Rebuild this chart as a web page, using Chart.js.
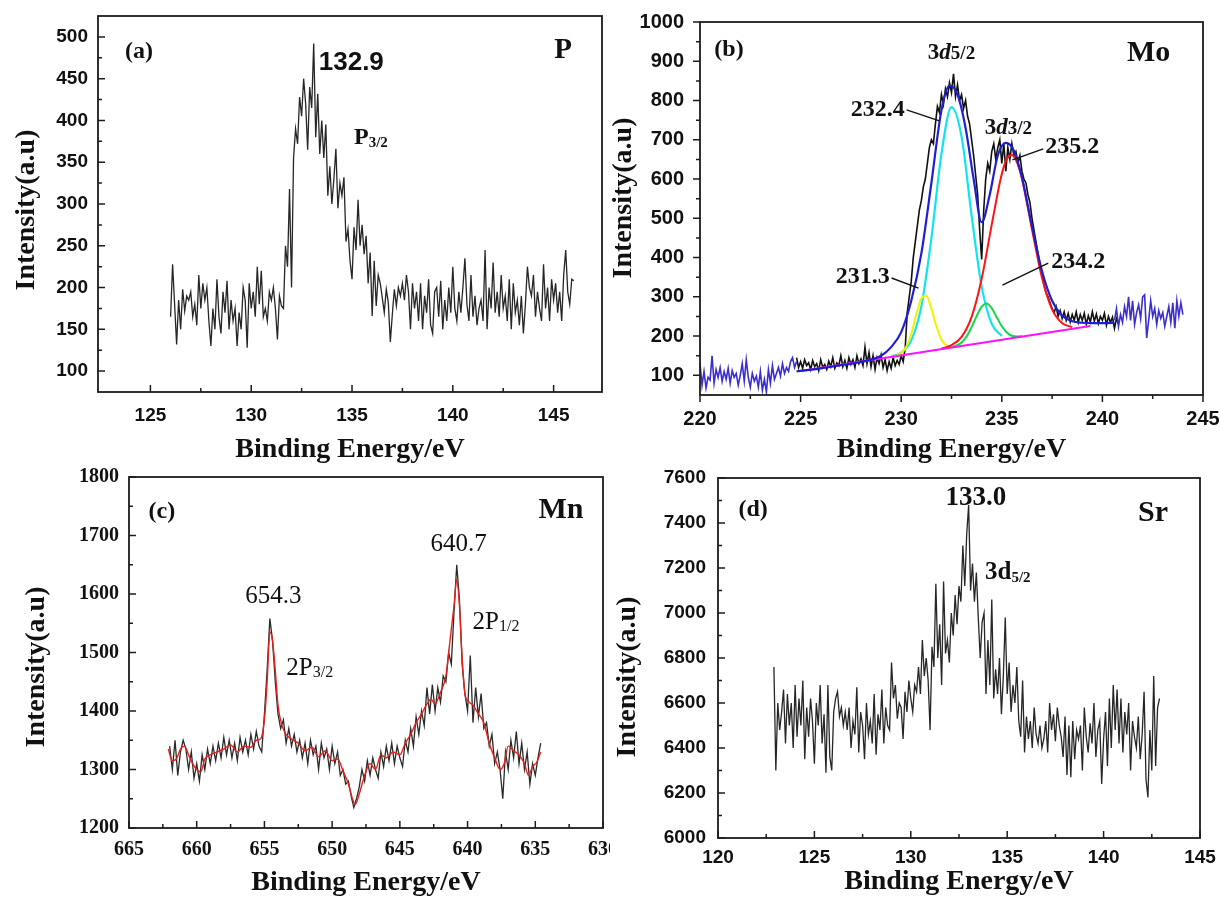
<!DOCTYPE html>
<html>
<head>
<meta charset="utf-8">
<script src="https://cdn.jsdelivr.net/npm/chart.js@4.4.0/dist/chart.umd.min.js"></script>
<style>
  html, body { margin: 0; padding: 0; background: #fff; }
  #page { position: relative; width: 1220px; height: 903px; overflow: hidden; background: #fff; }
  #page canvas { position: absolute; }
</style>
</head>
<body>
<div id="page">
  <canvas id="chartP" width="610" height="480" style="left:0;top:0"></canvas>
  <canvas id="chartMo" width="620" height="480" style="left:600px;top:0"></canvas>
  <canvas id="chartMn" width="610" height="453" style="left:0;top:450px"></canvas>
  <canvas id="chartSr" width="620" height="453" style="left:600px;top:450px"></canvas>
</div>
<script>
const SERIF = "'Liberation Serif', 'Times New Roman', serif";
const SANS = "'Liberation Sans', Arial, sans-serif";

// energy grids: spectra are sampled at a fixed step
const grid = (start, step, n) => Array.from({ length: n }, (_, i) => +(start + i * step).toFixed(3));
const pts = (xs, ys) => ys.slice(0, xs.length).map((y, i) => ({ x: xs[i], y }));

// ---- (a) P ----
const pY = [
  165, 228, 180, 132, 185, 150, 198, 172, 190, 185,
  195, 165, 180, 155, 215, 175, 205, 185, 200, 160,
  130, 175, 150, 210, 165, 145, 195, 170, 208, 150,
  185, 160, 175, 130, 170, 150, 200, 185, 128, 205,
  175, 195, 165, 225, 180, 220, 165, 175, 160, 195,
  185, 200, 175, 138, 190, 178, 175, 250, 225, 318,
  200, 355, 390, 372, 428, 405, 450, 420, 365, 440,
  415, 492, 380, 432, 360, 400, 355, 395, 310, 345,
  300, 330, 366, 295, 325, 310, 332, 255, 270, 232,
  210, 272, 245, 305, 250, 275, 240, 262, 205, 242,
  166, 232, 178, 215, 205, 188, 170, 198, 182, 135,
  168, 198, 178, 200, 190, 205, 185, 215, 195, 150,
  205, 175, 195, 160, 205, 150, 190, 170, 210, 155,
  145, 195, 200, 165, 208, 150, 185, 160, 200, 170,
  225, 175, 160, 195, 170, 200, 235, 180, 160, 215,
  165, 190, 155, 175, 185, 160, 245, 150, 200, 175,
  230, 170, 195, 165, 215, 175, 190, 160, 210, 150,
  205, 170, 185, 155, 190, 145, 180, 225, 200, 190,
  215, 165, 195, 175, 160, 228, 175, 200, 160, 210,
  185, 205, 170, 195, 160, 215, 245, 195, 180, 210,
  208
];
const pX = grid(126.0, 0.1, pY.length);
const pXTicks = [125, 130, 135, 140, 145];
const pYTicks = [100, 150, 200, 250, 300, 350, 400, 450, 500];

// ---- (b) Mo ----
const moRaw = [
  145, 120,
  135, 118, 140, 125, 132, 115, 138, 122, 130, 112,
  140, 120, 128, 115, 136, 122, 145, 118, 132, 125,
  150, 122, 138, 118, 145, 128, 140, 120, 150, 130,
  142, 125, 172, 130, 158, 122, 150, 115, 145, 130,
  152, 120, 140, 112, 135, 118, 145, 125, 138, 128,
  150, 135, 170, 260, 300, 340, 400, 440, 480, 520,
  545, 580, 600, 640, 680, 700, 690, 740, 785, 770,
  815, 790, 830, 810, 845, 820, 868, 810, 840, 800,
  815, 780, 800, 760, 740, 700, 660, 610, 560, 470,
  395, 520, 600, 640, 620, 670, 690, 650, 680, 700,
  640, 690, 620, 680, 650, 690, 660, 670, 640, 660,
  620, 600, 590, 560, 540, 500, 470, 440, 410, 380,
  360, 330, 310, 300, 285, 270, 260, 275, 250, 265,
  245, 262, 240, 258, 236, 255, 240, 262, 235, 255,
  240, 258, 230, 252, 236, 262, 238, 256, 232, 250,
  240, 258, 228, 250, 235, 248, 220, 245, 230
];
const moRawX = grid(224.8, 0.1, moRaw.length);
const moLowTail = [
  130, 75, 110, 68, 95, 88, 150, 80, 115, 95,
  120, 85, 110, 90, 118, 80, 112, 95, 105, 75,
  100, 130, 85, 140, 95, 70, 105, 85, 98, 70,
  110, 62, 90, 58, 115, 80, 125, 90, 105, 120,
  98, 130, 105, 120, 110, 135, 145, 120, 135
];
const moLowX = grid(220.0, 0.1, moLowTail.length);
const moHighTail = [
  240, 270, 225, 255, 235, 275, 250, 300, 240, 290,
  230, 260, 280, 245, 300, 305, 195, 240, 290, 250,
  270, 230, 265, 245, 260, 225, 250, 275, 235, 285,
  220, 290, 250, 285, 255
];
const moHighX = grid(240.6, 0.1, moHighTail.length);
const moEnvX = [224.8, 226, 227, 228, 229, 229.5, 230, 230.5, 231, 231.5, 232, 232.4, 232.8, 233.2, 233.6,
  234, 234.4, 234.8, 235.2, 235.6, 236, 236.5, 237, 237.5, 238, 238.5, 239, 239.5, 240, 240.6];
const moEnvY = [110, 118, 126, 134, 150, 172, 210, 290, 410, 590, 775, 838, 815, 730, 600,
  490, 560, 660, 692, 672, 605, 480, 365, 290, 252, 238, 234, 233, 233, 234];
const moCyanX = [229.5, 230, 230.5, 231, 231.5, 232, 232.5, 233, 233.5, 234, 234.5, 235];
const moCyanY = [148, 158, 189, 275, 449, 664, 783, 708, 507, 326, 231, 200];
const moYellowX = [229.5, 229.75, 230, 230.25, 230.5, 230.75, 231, 231.25, 231.5, 231.75, 232, 232.25, 232.5];
const moYellowY = [147, 150, 157, 173, 206, 255, 296, 303, 270, 225, 191, 176, 173];
const moGreenX = [232.5, 232.75, 233, 233.25, 233.5, 233.75, 234, 234.25, 234.5, 234.75, 235, 235.25, 235.5, 235.75, 236];
const moGreenY = [172, 176, 184, 199, 223, 251, 275, 283, 271, 248, 225, 209, 201, 199, 200];
const moRedX = [232, 232.5, 233, 233.5, 234, 234.5, 235, 235.25, 235.5, 235.75, 236, 236.5, 237, 237.5, 238, 238.5];
const moRedY = [168, 177, 198, 249, 346, 484, 613, 651, 661, 643, 601, 472, 348, 268, 233, 223];
const moBaseX = [225, 239.4];
const moBaseY = [111, 226];
const moXTicks = [220, 225, 230, 235, 240, 245];
const moYTicks = [100, 200, 300, 400, 500, 600, 700, 800, 900, 1000];

// ---- (c) Mn ----
const mnRaw = [
  1340, 1300, 1350, 1290, 1330,
  1350, 1335, 1300, 1330, 1285,
  1310, 1280, 1325, 1300, 1335,
  1310, 1340, 1315, 1345, 1320,
  1355, 1325, 1350, 1320, 1345,
  1315, 1355, 1330, 1350, 1325,
  1360, 1335, 1365, 1340, 1330,
  1395, 1470, 1558, 1520, 1450,
  1395, 1370, 1385, 1345, 1370,
  1340, 1360, 1330, 1350, 1320,
  1345, 1310, 1350, 1325, 1340,
  1300, 1345, 1320, 1335, 1300,
  1340, 1310, 1330, 1290, 1300,
  1275, 1280, 1255, 1235, 1250,
  1270, 1300, 1280, 1315, 1290,
  1320, 1300, 1285, 1330, 1305,
  1340, 1315, 1345, 1310, 1340,
  1320, 1305, 1350, 1330, 1370,
  1340, 1390, 1360, 1400, 1375,
  1440, 1395, 1445, 1400, 1440,
  1415, 1460, 1450, 1500, 1480,
  1570, 1650, 1590, 1480, 1430,
  1400, 1495, 1380, 1440, 1390,
  1430, 1370, 1380, 1340, 1360,
  1310, 1330, 1300, 1250, 1330,
  1300, 1350, 1320, 1365, 1310,
  1345, 1300, 1330, 1275, 1310,
  1290, 1320, 1345
];
const mnRawX = grid(662.0, -0.2, mnRaw.length);
const mnFitX = [662.1, 661.8, 661.5, 661.2, 660.9, 660.6, 660.3, 660.0, 659.7, 659.4,
  659.0, 658.5, 658.0, 657.5, 657.0, 656.5, 656.0, 655.6, 655.3, 655.0,
  654.8, 654.6, 654.4, 654.2, 654.0, 653.7, 653.4, 653.0, 652.5, 652.0,
  651.5, 651.0, 650.5, 650.0, 649.6, 649.2, 648.8, 648.5, 648.3, 648.0,
  647.6, 647.2, 646.8, 646.4, 646.0, 645.5, 645.0, 644.6, 644.2, 643.8,
  643.4, 643.0, 642.7, 642.4, 642.0, 641.6, 641.3, 641.0, 640.8, 640.6,
  640.4, 640.2, 640.0, 639.6, 639.2, 638.8, 638.4, 638.0, 637.6, 637.3,
  637.0, 636.6, 636.2, 635.8, 635.5, 635.2, 634.9, 634.6];
const mnFitY = [1335, 1315, 1318, 1335, 1340, 1325, 1310, 1300, 1296, 1318,
  1325, 1330, 1335, 1342, 1330, 1340, 1338, 1350, 1352, 1385,
  1450, 1535, 1520, 1470, 1410, 1375, 1360, 1352, 1345, 1332,
  1338, 1322, 1332, 1315, 1318, 1298, 1275, 1250, 1240, 1258,
  1290, 1310, 1300, 1325, 1320, 1330, 1325, 1345, 1360, 1380,
  1395, 1412, 1420, 1412, 1432, 1460, 1520, 1580, 1625, 1580,
  1490, 1430, 1418, 1410, 1395, 1380, 1345, 1320, 1300, 1310,
  1340, 1332, 1325, 1310, 1290, 1305, 1312, 1330];
const mnXTicks = [665, 660, 655, 650, 645, 640, 635, 630];
const mnYTicks = [1200, 1300, 1400, 1500, 1600, 1700, 1800];

// ---- (d) Sr ----
const srY = [
  6760,
  6300, 6600, 6480, 6560, 6660, 6420, 6640, 6500, 6600, 6400,
  6680, 6450, 6620, 6500, 6700, 6350, 6580, 6450, 6620, 6520,
  6330, 6600, 6500, 6680, 6420, 6550, 6290, 6680, 6360, 6300,
  6560, 6620, 6650, 6540, 6580, 6500, 6560, 6480, 6580, 6400,
  6520, 6460, 6670, 6380, 6560, 6500, 6350, 6600, 6460, 6520,
  6420, 6640, 6370, 6550, 6480, 6660, 6420, 6580, 6500, 6480,
  6780, 6620, 6680, 6530, 6600, 6580, 6440, 6650, 6560, 6700,
  6620, 6560, 6680, 6650, 6760, 6640, 6880, 6720, 6800, 6700,
  6480, 6850, 6760, 7130, 6800, 6950, 6680, 7140, 6820, 6880,
  6780, 7000, 6900, 7080, 6950, 7120, 7050, 7300, 7120, 7350,
  7480, 7100, 7220, 7050, 7180, 6980, 6800, 6960, 7000, 6640,
  6880, 6680, 7060, 6620, 6750, 6640, 6800, 6550, 6720, 6980,
  6640, 6780, 6560, 6680, 6600, 6760, 6520, 6450, 6700, 6380,
  6540, 6440, 6520, 6400, 6580, 6460, 6420, 6500, 6400, 6440,
  6520, 6380, 6600, 6480, 6550, 6430, 6580, 6500, 6450, 6360,
  6540, 6280, 6500, 6270, 6520, 6350, 6480, 6440, 6500, 6300,
  6580, 6450, 6380, 6510, 6420, 6600, 6360, 6480, 6520, 6240,
  6440, 6560, 6320, 6620, 6400, 6680, 6480, 6660, 6420, 6620,
  6380, 6560, 6460, 6600, 6300, 6520, 6450, 6400, 6540, 6350,
  6460, 6650, 6260, 6180, 6480, 6300, 6720, 6320, 6580, 6620
];
const srX = grid(122.9, 0.1, srY.length);
const srXTicks = [120, 125, 130, 135, 140, 145];
const srYTicks = [6000, 6200, 6400, 6600, 6800, 7000, 7200, 7400, 7600];

// ---- labels placed in data units ----
const bS = s => 'bold ' + s + 'px ' + SERIF;
const pNotes = [
  { x: 124.43, y: 482, parts: [['(a)', bS(24)]] },
  { x: 145.47, y: 484, parts: [['P', bS(29)]] },
  { x: 133.35, y: 469, align: 'left', parts: [['132.9', 'bold 26px ' + SANS]] },
  { x: 135.1, y: 379, align: 'left', parts: [['P', bS(24)], ['3/2', bS(15), 5]] }
];
const moNotes = [
  { x: 221.44, y: 929, parts: [['(b)', bS(24)]] },
  { x: 242.3, y: 921, parts: [['Mo', bS(30)]] },
  { x: 232.5, y: 921, parts: [['3', bS(23)], ['d', 'italic ' + bS(23)], ['5/2', bS(19), 1]] },
  { x: 228.83, y: 776, parts: [['232.4', bS(24)]] },
  { x: 235.33, y: 730, parts: [['3', bS(23)], ['d', 'italic ' + bS(23)], ['3/2', bS(19), 1]] },
  { x: 238.5, y: 682, parts: [['235.2', bS(24)]] },
  { x: 228.09, y: 350, parts: [['231.3', bS(24)]] },
  { x: 238.8, y: 389, parts: [['234.2', bS(24)]] }
];
const moLeaders = [
  [230.27, 776, 231.9, 748],
  [237.06, 677, 235.53, 649],
  [229.52, 348, 230.86, 322],
  [237.31, 386, 235.03, 330]
];
const mnNotes = [
  { x: 662.57, y: 1740, parts: [['(c)', bS(24)]] },
  { x: 633.1, y: 1743, parts: [['Mn', bS(30)]] },
  { x: 654.34, y: 1595, parts: [['654.3', '25px ' + SERIF]] },
  { x: 640.66, y: 1684, parts: [['640.7', '25px ' + SERIF]] },
  { x: 639.63, y: 1552, align: 'left', parts: [['2P', '25px ' + SERIF], ['1/2', '16px ' + SERIF, 5]] },
  { x: 653.38, y: 1473, align: 'left', parts: [['2P', '25px ' + SERIF], ['3/2', '16px ' + SERIF, 5]] }
];
const srNotes = [
  { x: 121.82, y: 7458, parts: [['(d)', bS(24)]] },
  { x: 142.56, y: 7444, parts: [['Sr', bS(30)]] },
  { x: 133.38, y: 7511, parts: [['133.0', bS(27)]] },
  { x: 133.85, y: 7178, align: 'left', parts: [['3d', bS(25)], ['5/2', bS(15), 5]] }
];

// frame, tick marks (major + minor), notes and rotated y title
const framePlugin = {
  id: 'frame',
  afterDatasetsDraw(chart, args, o) {
    const { ctx, chartArea: a } = chart;
    const sx = chart.scales.x, sy = chart.scales.y;
    const dir = o.inward ? -1 : 1;
    const isMajor = (s, v) => s.ticks.some(t => Math.abs(t.value - v) < 1e-6);
    const minors = (s, step) => {
      const out = [];
      for (let k = Math.ceil(s.min / step - 1e-9); k * step <= s.max + 1e-9; k++) {
        const v = +(k * step).toFixed(4);
        if (!isMajor(s, v)) out.push(v);
      }
      return out;
    };
    ctx.save();
    ctx.strokeStyle = '#1c1c1c';
    ctx.lineWidth = 1.8;
    ctx.strokeRect(a.left, a.top, a.right - a.left, a.bottom - a.top);
    ctx.lineWidth = 1.5;
    ctx.beginPath();
    sx.ticks.forEach(t => {
      const p = sx.getPixelForValue(t.value);
      ctx.moveTo(p, a.bottom); ctx.lineTo(p, a.bottom + dir * o.major);
    });
    minors(sx, o.xMinor).forEach(v => {
      const p = sx.getPixelForValue(v);
      if (p > a.left + 3 && p < a.right - 3) { ctx.moveTo(p, a.bottom); ctx.lineTo(p, a.bottom + dir * o.minor); }
    });
    sy.ticks.forEach(t => {
      const p = sy.getPixelForValue(t.value);
      ctx.moveTo(a.left, p); ctx.lineTo(a.left - dir * o.major, p);
    });
    minors(sy, o.yMinor).forEach(v => {
      const p = sy.getPixelForValue(v);
      if (p > a.top + 3 && p < a.bottom - 3) { ctx.moveTo(a.left, p); ctx.lineTo(a.left - dir * o.minor, p); }
    });
    ctx.stroke();
    ctx.restore();
  },
  afterDraw(chart, args, o) {
    const { ctx } = chart;
    const sx = chart.scales.x, sy = chart.scales.y;
    ctx.save();
    ctx.fillStyle = '#111';
    ctx.strokeStyle = '#111';
    ctx.lineWidth = 1.4;
    ctx.textBaseline = 'middle';
    ctx.textAlign = 'left';
    (o.leaders || []).forEach(([x1, y1, x2, y2]) => {
      ctx.beginPath();
      ctx.moveTo(sx.getPixelForValue(x1), sy.getPixelForValue(y1));
      ctx.lineTo(sx.getPixelForValue(x2), sy.getPixelForValue(y2));
      ctx.stroke();
    });
    (o.notes || []).forEach(n => {
      let w = 0;
      n.parts.forEach(p => { ctx.font = p[1]; w += ctx.measureText(p[0]).width; });
      let cx = sx.getPixelForValue(n.x) - (n.align === 'left' ? 0 : w / 2);
      const cy = sy.getPixelForValue(n.y);
      n.parts.forEach(p => {
        ctx.font = p[1];
        ctx.fillText(p[0], cx, cy + (p[2] || 0));
        cx += ctx.measureText(p[0]).width;
      });
    });
    if (o.yTitle) {
      ctx.font = bS(28);
      ctx.textAlign = 'center';
      ctx.translate(o.yTitle.cx, o.yTitle.cy);
      ctx.rotate(-Math.PI / 2);
      ctx.fillText('Intensity(a.u)', 0, 0);
    }
    ctx.restore();
  }
};

function line(data, color, width, smooth) {
  return {
    data, borderColor: color, borderWidth: width, pointRadius: 0, fill: false,
    tension: smooth ? 0.4 : 0, cubicInterpolationMode: smooth ? 'monotone' : 'default'
  };
}

function makePanel(id, s) {
  const tickFont = { family: s.tickFamily, size: s.tickSize, weight: 'bold' };
  return new Chart(document.getElementById(id), {
    type: 'line',
    data: { datasets: s.datasets },
    options: {
      responsive: false,
      animation: false,
      devicePixelRatio: 1,
      events: [],
      layout: { padding: { top: s.padTop, right: s.padRight, left: 0, bottom: 0 } },
      plugins: { legend: { display: false }, tooltip: { enabled: false }, frame: s.frame },
      scales: {
        x: {
          type: 'linear', min: s.xMin, max: s.xMax, reverse: !!s.reverse,
          afterFit: sc => { sc.height = s.xHeight; sc.paddingLeft = 0; sc.paddingRight = 0; },
          afterBuildTicks: sc => { sc.ticks = s.xTicks.map(v => ({ value: v })); },
          grid: { display: false, drawTicks: false },
          border: { display: false },
          ticks: { font: tickFont, color: '#111', padding: s.xPad, maxRotation: 0, autoSkip: false, callback: v => String(v) },
          title: {
            display: true, text: 'Binding Energy/eV', color: '#111',
            font: { family: SERIF, size: 28, weight: 'bold' }, padding: { top: 0, bottom: s.titlePad }
          }
        },
        y: {
          type: 'linear', min: s.yMin, max: s.yMax,
          afterFit: sc => { sc.width = s.yWidth; sc.paddingTop = 0; sc.paddingBottom = 0; },
          afterBuildTicks: sc => { sc.ticks = s.yTicks.map(v => ({ value: v })); },
          grid: { display: false, drawTicks: false },
          border: { display: false },
          ticks: { font: tickFont, color: '#111', padding: s.yPad, autoSkip: false, callback: v => String(v) }
        }
      }
    },
    plugins: [framePlugin]
  });
}

makePanel('chartP', {
  datasets: [line(pts(pX, pY), '#262626', 1.3)],
  xMin: 122.4, xMax: 147.4, xTicks: pXTicks, yMin: 75, yMax: 525, yTicks: pYTicks,
  tickFamily: SANS, tickSize: 19, xPad: 12, yPad: 10,
  padTop: 16, padRight: 8, xHeight: 88, yWidth: 98, titlePad: 13,
  frame: { inward: true, major: 7, minor: 4, xMinor: 2.5, yMinor: 25, notes: pNotes, yTitle: { cx: 27, cy: 210 } }
});

makePanel('chartMo', {
  datasets: [
    line(pts(moEnvX, moEnvY), '#1f1fd2', 2.2, true),
    line(pts(moBaseX, moBaseY), '#ff10ff', 2),
    line(pts(moRedX, moRedY), '#ff1414', 2, true),
    line(pts(moGreenX, moGreenY), '#10d848', 2, true),
    line(pts(moYellowX, moYellowY), '#f2f200', 2, true),
    line(pts(moCyanX, moCyanY), '#10e4f0', 2.2, true),
    line(pts(moLowX, moLowTail), '#3b2fd0', 1.6),
    line(pts(moHighX, moHighTail), '#3b2fd0', 1.6),
    line(pts(moRawX, moRaw), '#111', 1.6)
  ],
  xMin: 220, xMax: 245, xTicks: moXTicks, yMin: 50, yMax: 1000, yTicks: moYTicks,
  tickFamily: SANS, tickSize: 20, xPad: 12, yPad: 16,
  padTop: 22, padRight: 17, xHeight: 85, yWidth: 100, titlePad: 13,
  frame: { inward: false, major: 7, minor: 4, xMinor: 2.5, yMinor: 50, notes: moNotes, leaders: moLeaders, yTitle: { cx: 24, cy: 198 } }
});

makePanel('chartMn', {
  datasets: [
    line(pts(mnFitX, mnFitY), '#e8201a', 1.4, true),
    line(pts(mnRawX, mnRaw), '#2a2a2a', 1.3)
  ],
  xMin: 630, xMax: 665, reverse: true, xTicks: mnXTicks, yMin: 1200, yMax: 1800, yTicks: mnYTicks,
  tickFamily: SERIF, tickSize: 20, xPad: 10, yPad: 10,
  padTop: 27, padRight: 7, xHeight: 75, yWidth: 129, titlePad: 3,
  frame: { inward: true, major: 7, minor: 4, xMinor: 2.5, yMinor: 50, notes: mnNotes, yTitle: { cx: 37, cy: 217 } }
});

makePanel('chartSr', {
  datasets: [line(pts(srX, srY), '#262626', 1.3)],
  xMin: 120, xMax: 145, xTicks: srXTicks, yMin: 6000, yMax: 7600, yTicks: srYTicks,
  tickFamily: SANS, tickSize: 19, xPad: 8, yPad: 12,
  padTop: 28, padRight: 20, xHeight: 65, yWidth: 118, titlePad: 4,
  frame: { inward: true, major: 7, minor: 4, xMinor: 2.5, yMinor: 100, notes: srNotes, yTitle: { cx: 28, cy: 227 } }
});
</script>
</body>
</html>
